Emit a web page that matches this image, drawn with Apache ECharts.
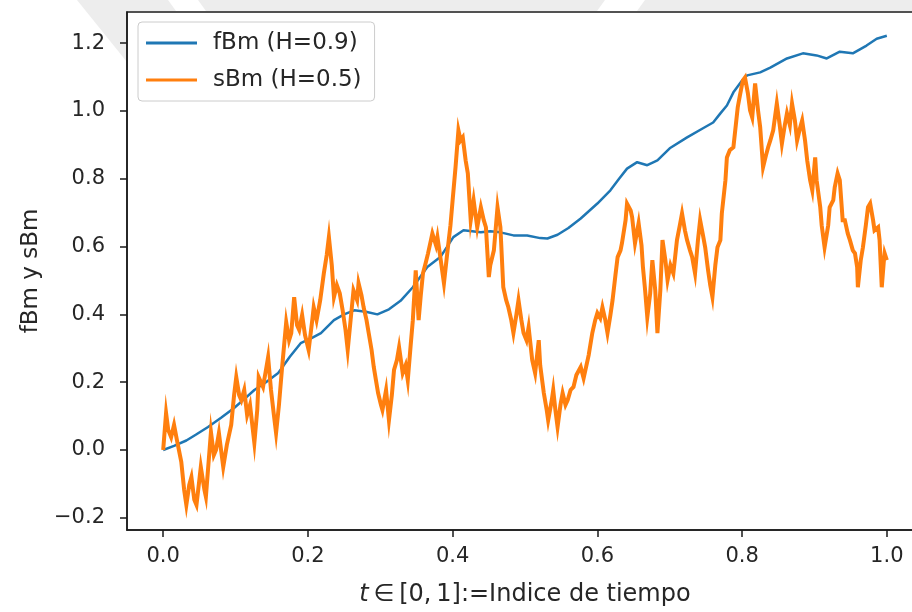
<!DOCTYPE html>
<html><head><meta charset="utf-8">
<script src="https://cdn.jsdelivr.net/npm/echarts@6/dist/echarts.min.js"></script>
<style>html,body{margin:0;padding:0;background:#fff}#c{width:912px;height:612px}</style>
</head><body><div id="c"></div>
<script>
// ---- data ----
const seriesNames = ['fBm (H=0.9)', 'sBm (H=0.5)'];
const xTicks = [0.0, 0.2, 0.4, 0.6, 0.8, 1.0];
const yTicks = [-0.2, 0.0, 0.2, 0.4, 0.6, 0.8, 1.0, 1.2];
const xLimits = [-0.05, 1.05];
const yLimits = [-0.236, 1.292];

const fbmPoints = [[0.000,0.000],[0.015,0.012],[0.032,0.028],[0.045,0.045],[0.062,0.068],[0.080,0.095],[0.098,0.124],[0.112,0.150],[0.126,0.177],[0.142,0.200],[0.159,0.227],[0.175,0.275],[0.190,0.315],[0.205,0.330],[0.218,0.345],[0.236,0.383],[0.250,0.400],[0.264,0.412],[0.280,0.408],[0.296,0.400],[0.312,0.415],[0.328,0.440],[0.345,0.480],[0.365,0.540],[0.383,0.569],[0.401,0.628],[0.415,0.648],[0.427,0.645],[0.439,0.642],[0.452,0.645],[0.466,0.642],[0.484,0.633],[0.503,0.633],[0.521,0.625],[0.531,0.624],[0.545,0.635],[0.560,0.655],[0.577,0.683],[0.600,0.727],[0.618,0.766],[0.630,0.800],[0.641,0.830],[0.655,0.849],[0.669,0.840],[0.683,0.854],[0.700,0.890],[0.724,0.922],[0.746,0.949],[0.760,0.966],[0.770,0.993],[0.779,1.016],[0.788,1.055],[0.800,1.090],[0.807,1.105],[0.825,1.114],[0.839,1.128],[0.862,1.155],[0.884,1.170],[0.903,1.164],[0.917,1.155],[0.935,1.175],[0.953,1.170],[0.972,1.193],[0.986,1.213],[1.000,1.222]];

const sbmPoints = [[0.000,0.000],[0.004,0.109],[0.007,0.059],[0.011,0.038],[0.015,0.074],[0.019,0.029],[0.025,-0.035],[0.029,-0.118],[0.032,-0.162],[0.036,-0.103],[0.039,-0.080],[0.043,-0.147],[0.046,-0.162],[0.050,-0.088],[0.052,-0.050],[0.057,-0.118],[0.059,-0.138],[0.063,-0.029],[0.066,0.053],[0.070,-0.015],[0.073,0.000],[0.077,0.050],[0.083,-0.050],[0.088,0.015],[0.094,0.074],[0.098,0.162],[0.101,0.215],[0.105,0.162],[0.108,0.147],[0.112,0.177],[0.116,0.103],[0.120,0.133],[0.126,0.021],[0.130,0.118],[0.132,0.215],[0.138,0.186],[0.142,0.236],[0.145,0.274],[0.149,0.177],[0.153,0.103],[0.156,0.050],[0.160,0.133],[0.164,0.236],[0.170,0.377],[0.174,0.324],[0.177,0.345],[0.181,0.451],[0.185,0.368],[0.188,0.354],[0.192,0.398],[0.196,0.339],[0.201,0.295],[0.206,0.383],[0.208,0.421],[0.212,0.383],[0.217,0.442],[0.222,0.521],[0.226,0.575],[0.229,0.628],[0.233,0.545],[0.236,0.451],[0.240,0.486],[0.244,0.462],[0.248,0.412],[0.252,0.354],[0.255,0.295],[0.259,0.383],[0.263,0.471],[0.268,0.442],[0.270,0.492],[0.274,0.457],[0.277,0.421],[0.281,0.383],[0.284,0.345],[0.288,0.295],[0.291,0.245],[0.294,0.206],[0.297,0.168],[0.301,0.133],[0.303,0.118],[0.308,0.177],[0.312,0.088],[0.316,0.162],[0.319,0.236],[0.323,0.265],[0.326,0.303],[0.331,0.227],[0.335,0.250],[0.338,0.206],[0.342,0.309],[0.345,0.383],[0.349,0.530],[0.353,0.383],[0.356,0.457],[0.359,0.521],[0.363,0.554],[0.366,0.580],[0.370,0.619],[0.372,0.639],[0.377,0.604],[0.379,0.628],[0.383,0.569],[0.388,0.492],[0.393,0.589],[0.397,0.663],[0.400,0.737],[0.404,0.834],[0.408,0.943],[0.411,0.913],[0.414,0.922],[0.418,0.854],[0.421,0.816],[0.425,0.678],[0.429,0.737],[0.434,0.657],[0.439,0.716],[0.443,0.678],[0.446,0.657],[0.450,0.510],[0.452,0.545],[0.457,0.589],[0.462,0.716],[0.466,0.657],[0.470,0.480],[0.474,0.442],[0.477,0.421],[0.481,0.383],[0.484,0.345],[0.488,0.398],[0.491,0.442],[0.495,0.383],[0.498,0.345],[0.502,0.324],[0.505,0.362],[0.510,0.265],[0.514,0.227],[0.519,0.324],[0.521,0.250],[0.526,0.168],[0.530,0.118],[0.532,0.088],[0.537,0.147],[0.539,0.177],[0.542,0.118],[0.545,0.068],[0.549,0.133],[0.552,0.168],[0.556,0.133],[0.559,0.147],[0.563,0.177],[0.567,0.186],[0.571,0.221],[0.577,0.245],[0.581,0.212],[0.583,0.215],[0.588,0.280],[0.593,0.345],[0.597,0.383],[0.600,0.404],[0.604,0.389],[0.607,0.421],[0.611,0.383],[0.614,0.345],[0.618,0.398],[0.621,0.442],[0.625,0.516],[0.628,0.569],[0.632,0.589],[0.634,0.610],[0.639,0.678],[0.641,0.727],[0.646,0.707],[0.648,0.687],[0.652,0.610],[0.657,0.669],[0.661,0.604],[0.663,0.539],[0.666,0.471],[0.669,0.392],[0.673,0.462],[0.676,0.560],[0.680,0.471],[0.683,0.345],[0.687,0.471],[0.690,0.619],[0.694,0.560],[0.697,0.501],[0.701,0.545],[0.705,0.521],[0.710,0.619],[0.714,0.663],[0.717,0.698],[0.721,0.648],[0.724,0.619],[0.728,0.589],[0.731,0.569],[0.735,0.521],[0.739,0.619],[0.742,0.678],[0.746,0.633],[0.749,0.598],[0.753,0.530],[0.756,0.486],[0.759,0.451],[0.763,0.545],[0.766,0.598],[0.770,0.619],[0.772,0.698],[0.777,0.796],[0.779,0.863],[0.783,0.884],[0.788,0.893],[0.792,0.972],[0.794,1.011],[0.797,1.046],[0.801,1.090],[0.804,1.099],[0.808,1.052],[0.811,1.002],[0.814,0.981],[0.818,1.081],[0.822,1.002],[0.825,0.952],[0.829,0.834],[0.833,0.869],[0.836,0.893],[0.839,0.913],[0.843,0.943],[0.848,1.022],[0.852,0.958],[0.855,0.904],[0.859,0.958],[0.862,0.993],[0.866,0.958],[0.869,1.022],[0.873,0.972],[0.876,0.913],[0.880,0.949],[0.883,0.972],[0.887,0.913],[0.890,0.854],[0.894,0.796],[0.897,0.766],[0.901,0.863],[0.903,0.796],[0.908,0.716],[0.910,0.663],[0.914,0.598],[0.919,0.663],[0.921,0.716],[0.926,0.737],[0.928,0.775],[0.932,0.816],[0.935,0.796],[0.939,0.678],[0.942,0.678],[0.946,0.639],[0.949,0.619],[0.953,0.589],[0.956,0.580],[0.959,0.539],[0.960,0.480],[0.964,0.560],[0.967,0.598],[0.971,0.663],[0.974,0.716],[0.977,0.727],[0.981,0.678],[0.983,0.648],[0.988,0.657],[0.990,0.619],[0.993,0.480],[0.996,0.560],[0.997,0.580],[1.000,0.560]];

// ---- chart ----
const FONT = '"DejaVu Sans", sans-serif';
const TXT = '#262626';
const fmt = v => (v < -1e-9 ? '\u2212' : '') + Math.abs(v).toFixed(1);

const chart = echarts.init(document.getElementById('c'), null, {renderer: 'canvas'});
chart.setOption({
  animation: false,
  backgroundColor: '#ffffff',
  textStyle: {fontFamily: FONT},
  graphic: [
    {type: 'polygon', silent: true, z: -10,
     shape: {points: [[77,0],[912,0],[912,11],[127,11],[127,62]]},
     style: {fill: '#ededed'}},
    {type: 'polygon', silent: true, z: -9,
     shape: {points: [[168,0],[198,0],[206,11],[176,11]]},
     style: {fill: '#ffffff'}},
    {type: 'polygon', silent: true, z: -9,
     shape: {points: [[605,0],[645,0],[637,11],[597,11]]},
     style: {fill: '#ffffff'}}
  ],
  grid: {left: 127, top: 12, width: 796, height: 518, show: true,
         borderColor: '#1a1a1a', borderWidth: 1.5, backgroundColor: 'transparent',
         containLabel: false, outerBoundsMode: 'none'},
  legend: {
    orient: 'vertical', left: 138, top: 22,
    data: seriesNames,
    icon: 'rect', itemWidth: 51, itemHeight: 3, itemGap: 13,
    padding: [9, 13, 9, 8],
    borderColor: '#cccccc', borderWidth: 1, borderRadius: 4,
    backgroundColor: 'rgba(255,255,255,0.8)',
    textStyle: {fontSize: 23, color: TXT, fontFamily: FONT, lineHeight: 24, padding: [0, 0, 0, 11]}
  },
  xAxis: {
    type: 'value', min: xLimits[0], max: xLimits[1],
    name: '{i|t}\u2009\u2208\u2009[0,\u20091]:=Indice de tiempo',
    nameLocation: 'middle', nameGap: 53,
    nameTextStyle: {fontSize: 24, color: TXT, fontFamily: FONT,
      rich: {i: {fontSize: 24, fontStyle: 'italic', color: TXT, fontFamily: FONT}}},
    axisLine: {show: true, onZero: false, lineStyle: {color: '#1a1a1a', width: 1.5}},
    axisTick: {show: true, length: 7, customValues: xTicks, lineStyle: {color: '#1a1a1a', width: 1.5}},
    axisLabel: {customValues: xTicks, formatter: fmt, fontSize: 21, color: TXT, margin: 16, fontFamily: FONT},
    splitLine: {show: false}
  },
  yAxis: {
    type: 'value', min: yLimits[0], max: yLimits[1],
    name: 'fBm y sBm',
    nameLocation: 'middle', nameGap: 84,
    nameTextStyle: {fontSize: 23, color: TXT, fontFamily: FONT},
    axisLine: {show: true, onZero: false, lineStyle: {color: '#1a1a1a', width: 1.5}},
    axisTick: {show: true, length: 7, customValues: yTicks, lineStyle: {color: '#1a1a1a', width: 1.5}},
    axisLabel: {customValues: yTicks, formatter: fmt, fontSize: 21, color: TXT, margin: 22, fontFamily: FONT},
    splitLine: {show: false}
  },
  series: [
    {name: seriesNames[0], type: 'line', data: fbmPoints, showSymbol: false, symbol: 'none',
     lineStyle: {color: '#1f77b4', width: 2.5}, itemStyle: {color: '#1f77b4'}, z: 2},
    {name: seriesNames[1], type: 'line', data: sbmPoints, showSymbol: false, symbol: 'none',
     lineStyle: {color: '#ff7f0e', width: 4, join: 'miter'}, itemStyle: {color: '#ff7f0e'}, z: 3}
  ]
});
</script></body></html>
